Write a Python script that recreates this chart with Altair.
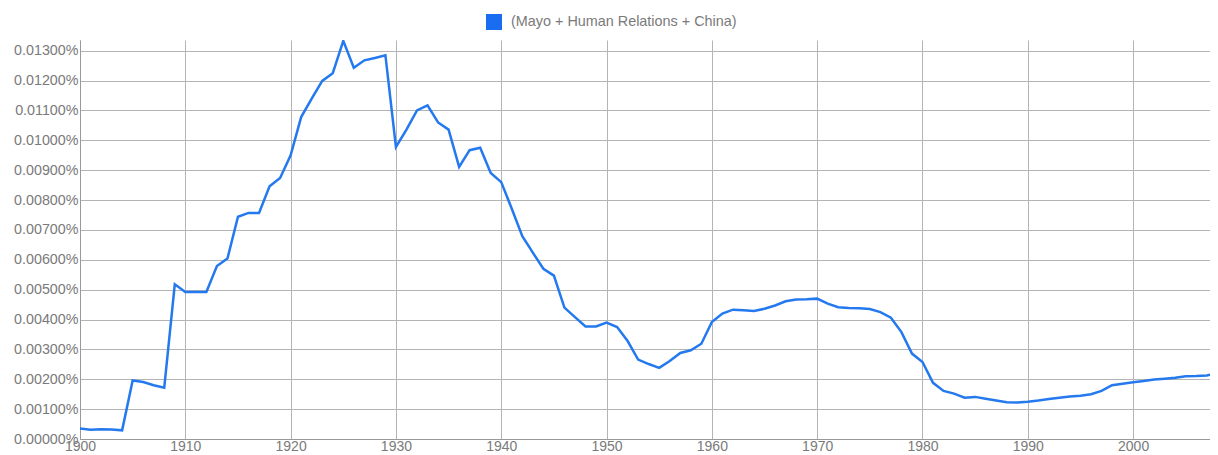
import altair as alt
import pandas as pd

years = list(range(1900, 2009))
values = [
    0.00035, 0.00031, 0.00033, 0.00032, 0.00029, 0.00196, 0.00191, 0.00180, 0.00172, 0.00518,
    0.00492, 0.00492, 0.00492, 0.00579, 0.00604, 0.00744, 0.00757, 0.00757, 0.00846, 0.00874,
    0.00950, 0.01078, 0.01140, 0.01199, 0.01225, 0.01333, 0.01243, 0.01268, 0.01276, 0.01285,
    0.00978, 0.01036, 0.01100, 0.01117, 0.01060, 0.01036, 0.00911, 0.00967, 0.00975, 0.00891,
    0.00860, 0.00771, 0.00679, 0.00624, 0.00570, 0.00547, 0.00440, 0.00408, 0.00377, 0.00377,
    0.00390, 0.00375, 0.00328, 0.00266, 0.00251, 0.00238, 0.00261, 0.00288, 0.00297, 0.00319,
    0.00392, 0.00420, 0.00433, 0.00431, 0.00429, 0.00436, 0.00447, 0.00461, 0.00467, 0.00468,
    0.00470, 0.00453, 0.00441, 0.00439, 0.00438, 0.00435, 0.00425, 0.00406, 0.00358, 0.00286,
    0.00258, 0.00188, 0.00161, 0.00152, 0.00138, 0.00141, 0.00135, 0.00129, 0.00123, 0.00122,
    0.00125, 0.00129, 0.00134, 0.00138, 0.00142, 0.00145, 0.00150, 0.00161, 0.00180, 0.00185,
    0.00190, 0.00194, 0.00199, 0.00202, 0.00205, 0.00210, 0.00211, 0.00213, 0.00219,
]
series_name = "(Mayo + Human Relations + China)"
x_ticks = list(range(1900, 2001, 10))
y_ticks = [i / 1000 for i in range(0, 14)]

df = pd.DataFrame({"year": years, "value": values, "series": series_name})

line_color = "#2479ef"
label_color = "#7a7a7a"

chart = alt.Chart(df).mark_line(strokeWidth=2.5, color=line_color, clip=True).encode(
    x=alt.X(
        "year:Q",
        scale=alt.Scale(domain=[1900, 2007.3], nice=False, zero=False),
        axis=alt.Axis(
            values=x_ticks, format="d", title=None, grid=True, gridColor="#b4b4b4",
            domainColor="#999999", ticks=False, labelColor=label_color, labelFontSize=14,
            labelFont="Liberation Sans", labelPadding=0, labelFlush=False,
        ),
    ),
    y=alt.Y(
        "value:Q",
        scale=alt.Scale(domain=[0, 0.01336], nice=False),
        axis=alt.Axis(
            values=y_ticks, labelExpr="format(datum.value, '.5f') + '%'", title=None,
            grid=True, gridColor="#b4b4b4", domainColor="#999999", ticks=False,
            labelColor=label_color, labelFontSize=14.3, labelFont="Liberation Sans",
            labelPadding=2, labelFlush=False,
        ),
    ),
    color=alt.Color(
        "series:N",
        scale=alt.Scale(range=[line_color]),
        legend=alt.Legend(
            title=None, orient="none", legendX=406, legendY=-26,
            symbolType="square", symbolSize=256, symbolFillColor="#1a6cf0",
            symbolStrokeWidth=0, labelColor=label_color, labelFontSize=14.4,
            labelFont="Liberation Sans", labelOffset=9, labelLimit=0,
        ),
    ),
).properties(
    width=1130, height=399,
    padding={"left": 72, "top": 32, "right": 0, "bottom": 14},
    autosize=alt.AutoSizeParams(type="none"),
).configure_view(stroke=None)

chart.save("out.html", embed_options={"renderer": "svg", "actions": False})
